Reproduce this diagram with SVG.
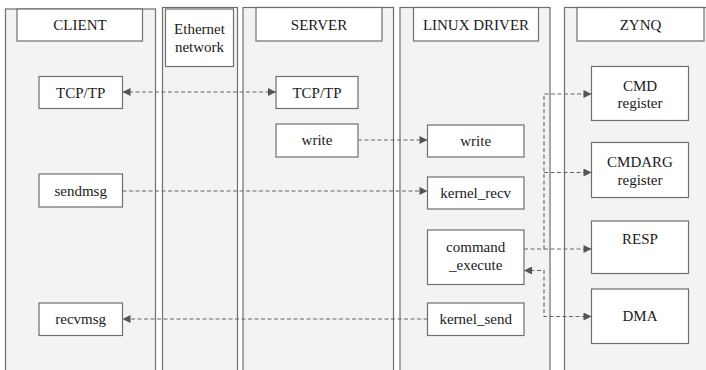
<svg xmlns="http://www.w3.org/2000/svg" width="706" height="370" viewBox="0 0 706 370">
<style>
.lane{fill:#f3f3f3;stroke:#6f6f6f;stroke-width:1.2}
.box{fill:#ffffff;stroke:#6f6f6f;stroke-width:1.2}
.t{font-family:'Liberation Serif','DejaVu Serif',serif;font-size:15px;fill:#1a1a1a;text-anchor:middle}
.c{fill:none;stroke:#666666;stroke-width:1.1;stroke-dasharray:4,2.5}
</style>
<defs>
<marker id="ah" viewBox="0 0 10 10" refX="10" refY="5" markerWidth="9" markerHeight="8" markerUnits="userSpaceOnUse" orient="auto-start-reverse">
<path d="M0,0 L10,5 L0,10 z" fill="#555555"/>
</marker>
</defs>
<rect width="706" height="370" fill="#ffffff"/>
<g id="lanes">
<g id="lane-client"><rect class="lane" x="5.5" y="9" width="150" height="370"/><rect class="box" x="17" y="9" width="125.5" height="32"/><text class="t" x="80" y="30">CLIENT</text></g>
<g id="lane-ethernet"><rect class="lane" x="162.5" y="7.5" width="75" height="370"/><rect class="box" x="165.5" y="9" width="68" height="57.5"/><text class="t" x="199.5" y="34">Ethernet</text><text class="t" x="199.5" y="52">network</text></g>
<g id="lane-server"><rect class="lane" x="243" y="7.5" width="150.5" height="370"/><rect class="box" x="256" y="7.5" width="126" height="33.5"/><text class="t" x="319" y="30">SERVER</text></g>
<g id="lane-driver"><rect class="lane" x="400" y="7.5" width="150" height="370"/><rect class="box" x="413.5" y="7.5" width="125" height="33.5"/><text class="t" x="476" y="30">LINUX DRIVER</text></g>
<g id="lane-zynq"><rect class="lane" x="564.5" y="7.5" width="145" height="370"/><rect class="box" x="577" y="7.5" width="127" height="33.5"/><text class="t" x="640.5" y="30">ZYNQ</text></g>
</g>
<g id="n-client-tcp"><rect class="box" x="39" y="76.5" width="83.5" height="32"/><text class="t" x="80.7" y="97.5">TCP/TP</text></g>
<g id="n-sendmsg"><rect class="box" x="39" y="174" width="83.5" height="33"/><text class="t" x="80.7" y="195.5">sendmsg</text></g>
<g id="n-recvmsg"><rect class="box" x="39" y="303" width="83.5" height="32.5"/><text class="t" x="80.7" y="324">recvmsg</text></g>
<g id="n-server-tcp"><rect class="box" x="276" y="76.5" width="82" height="32"/><text class="t" x="317" y="97.5">TCP/TP</text></g>
<g id="n-server-write"><rect class="box" x="276" y="124" width="82" height="33"/><text class="t" x="317" y="145">write</text></g>
<g id="n-driver-write"><rect class="box" x="427.5" y="125" width="96.5" height="32"/><text class="t" x="475.7" y="145.5">write</text></g>
<g id="n-kernel-recv"><rect class="box" x="427.5" y="177" width="96.5" height="32"/><text class="t" x="475.7" y="197.5">kernel_recv</text></g>
<g id="n-command-execute"><rect class="box" x="427.5" y="230" width="96.5" height="54.5"/><text class="t" x="475.7" y="252">command</text><text class="t" x="475.7" y="270">_execute</text></g>
<g id="n-kernel-send"><rect class="box" x="427.5" y="303" width="96.5" height="32.5"/><text class="t" x="475.7" y="324">kernel_send</text></g>
<g id="n-cmd"><rect class="box" x="591.5" y="66.5" width="97" height="54"/><text class="t" x="640" y="91">CMD</text><text class="t" x="640" y="108">register</text></g>
<g id="n-cmdarg"><rect class="box" x="591.5" y="142.5" width="97" height="55"/><text class="t" x="640" y="167">CMDARG</text><text class="t" x="640" y="185">register</text></g>
<g id="n-resp"><rect class="box" x="591.5" y="221" width="97" height="52.5"/><text class="t" x="640" y="244">RESP</text></g>
<g id="n-dma"><rect class="box" x="591.5" y="289" width="97" height="54.5"/><text class="t" x="640" y="321">DMA</text></g>
<g id="connectors">
<path class="c" d="M122.5,92 H276" marker-start="url(#ah)" marker-end="url(#ah)"/>
<path class="c" d="M358,140 H427.5" marker-end="url(#ah)"/>
<path class="c" d="M122.5,191 H427.5" marker-end="url(#ah)"/>
<path class="c" d="M427.5,319 H122.5" marker-end="url(#ah)"/>
<path class="c" d="M524,249 H544 V94 H591.5" marker-end="url(#ah)"/>
<path class="c" d="M544,172.5 H591.5" marker-end="url(#ah)"/>
<path class="c" d="M544,249 H591.5" marker-end="url(#ah)"/>
<path class="c" d="M524,270.5 H544 V316.5 H591.5" marker-start="url(#ah)" marker-end="url(#ah)"/>
</g>
</svg>
